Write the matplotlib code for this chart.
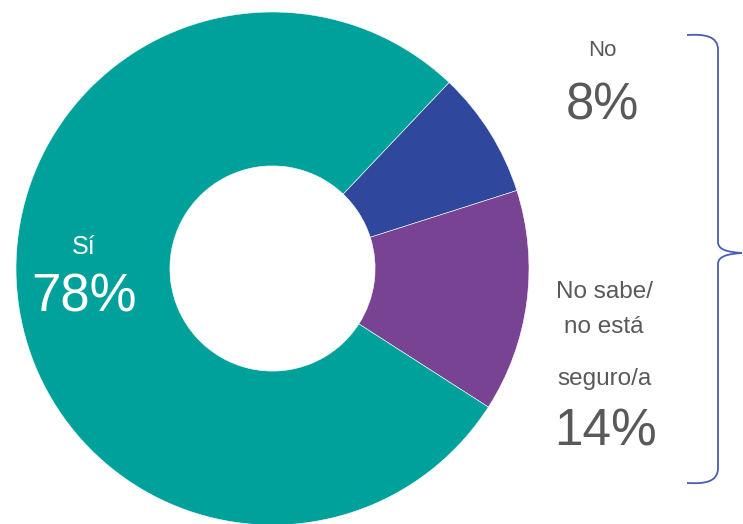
import matplotlib
matplotlib.use("Agg")
import matplotlib.pyplot as plt
from matplotlib.path import Path
from matplotlib.patches import PathPatch

plt.rcParams['font.family'] = ['Liberation Sans', 'DejaVu Sans']

# Data
categories = ["No", "No sabe/\nno está\n\nseguro/a", "Sí"]
values = [8, 14, 78]
colors = ["#2F489D", "#784392", "#00A19A"]

W, H = 743, 524
fig = plt.figure(figsize=(W / 100, H / 100), dpi=100)
ax = fig.add_axes([0, 0, 1, 1])

def Y(y):
    return H - y

cx, cy, R = 272.5, 268.5, 256.5
ax.pie(values, radius=R, center=(cx, Y(cy)), startangle=46.5, counterclock=False,
       colors=colors,
       wedgeprops=dict(width=R * 0.6, edgecolor='white', linewidth=0.4))

ax.set_xlim(0, W)
ax.set_ylim(0, H)
ax.set_aspect('equal')
ax.axis('off')

gray = "#595959"
# Sí label (white, inside)
ax.text(83.5, Y(254), "Sí", color="white", fontsize=18, ha="center", va="baseline")
ax.text(83.5, Y(312), f"{values[2]}%", color="white", fontsize=38, ha="center", va="baseline")

# No label
ax.text(602, Y(56), "No", color=gray, fontsize=16, ha="center", va="baseline")
ax.text(602, Y(119), f"{values[0]}%", color=gray, fontsize=36.5, ha="center", va="baseline")

# No sabe label
ax.text(604, Y(298), "No sabe/", color=gray, fontsize=17.5, ha="center", va="baseline")
ax.text(604, Y(333), "no está", color=gray, fontsize=17.5, ha="center", va="baseline")
ax.text(604, Y(385), "seguro/a", color=gray, fontsize=17.5, ha="center", va="baseline")
ax.text(605, Y(445), f"{values[1]}%", color=gray, fontsize=37, ha="center", va="baseline")

# Curly brace
bx, tipx, tipy = 718, 742, 253
verts = [
    (687, Y(35)),
    (705, Y(34)), (718, Y(36)), (bx, Y(50)),
    (bx, Y(242)),
    (bx, Y(250)), (728, Y(252)), (tipx, Y(tipy)),
    (728, Y(254)), (bx, Y(256)), (bx, Y(264)),
    (bx, Y(468)),
    (bx, Y(482)), (705, Y(484)), (687, Y(483)),
]
codes = [Path.MOVETO,
         Path.CURVE4, Path.CURVE4, Path.CURVE4,
         Path.LINETO,
         Path.CURVE4, Path.CURVE4, Path.CURVE4,
         Path.CURVE4, Path.CURVE4, Path.CURVE4,
         Path.LINETO,
         Path.CURVE4, Path.CURVE4, Path.CURVE4]
ax.add_patch(PathPatch(Path(verts, codes), facecolor='none', edgecolor="#4A5DB0", linewidth=1.3))

fig.savefig("out.png", dpi=100)
